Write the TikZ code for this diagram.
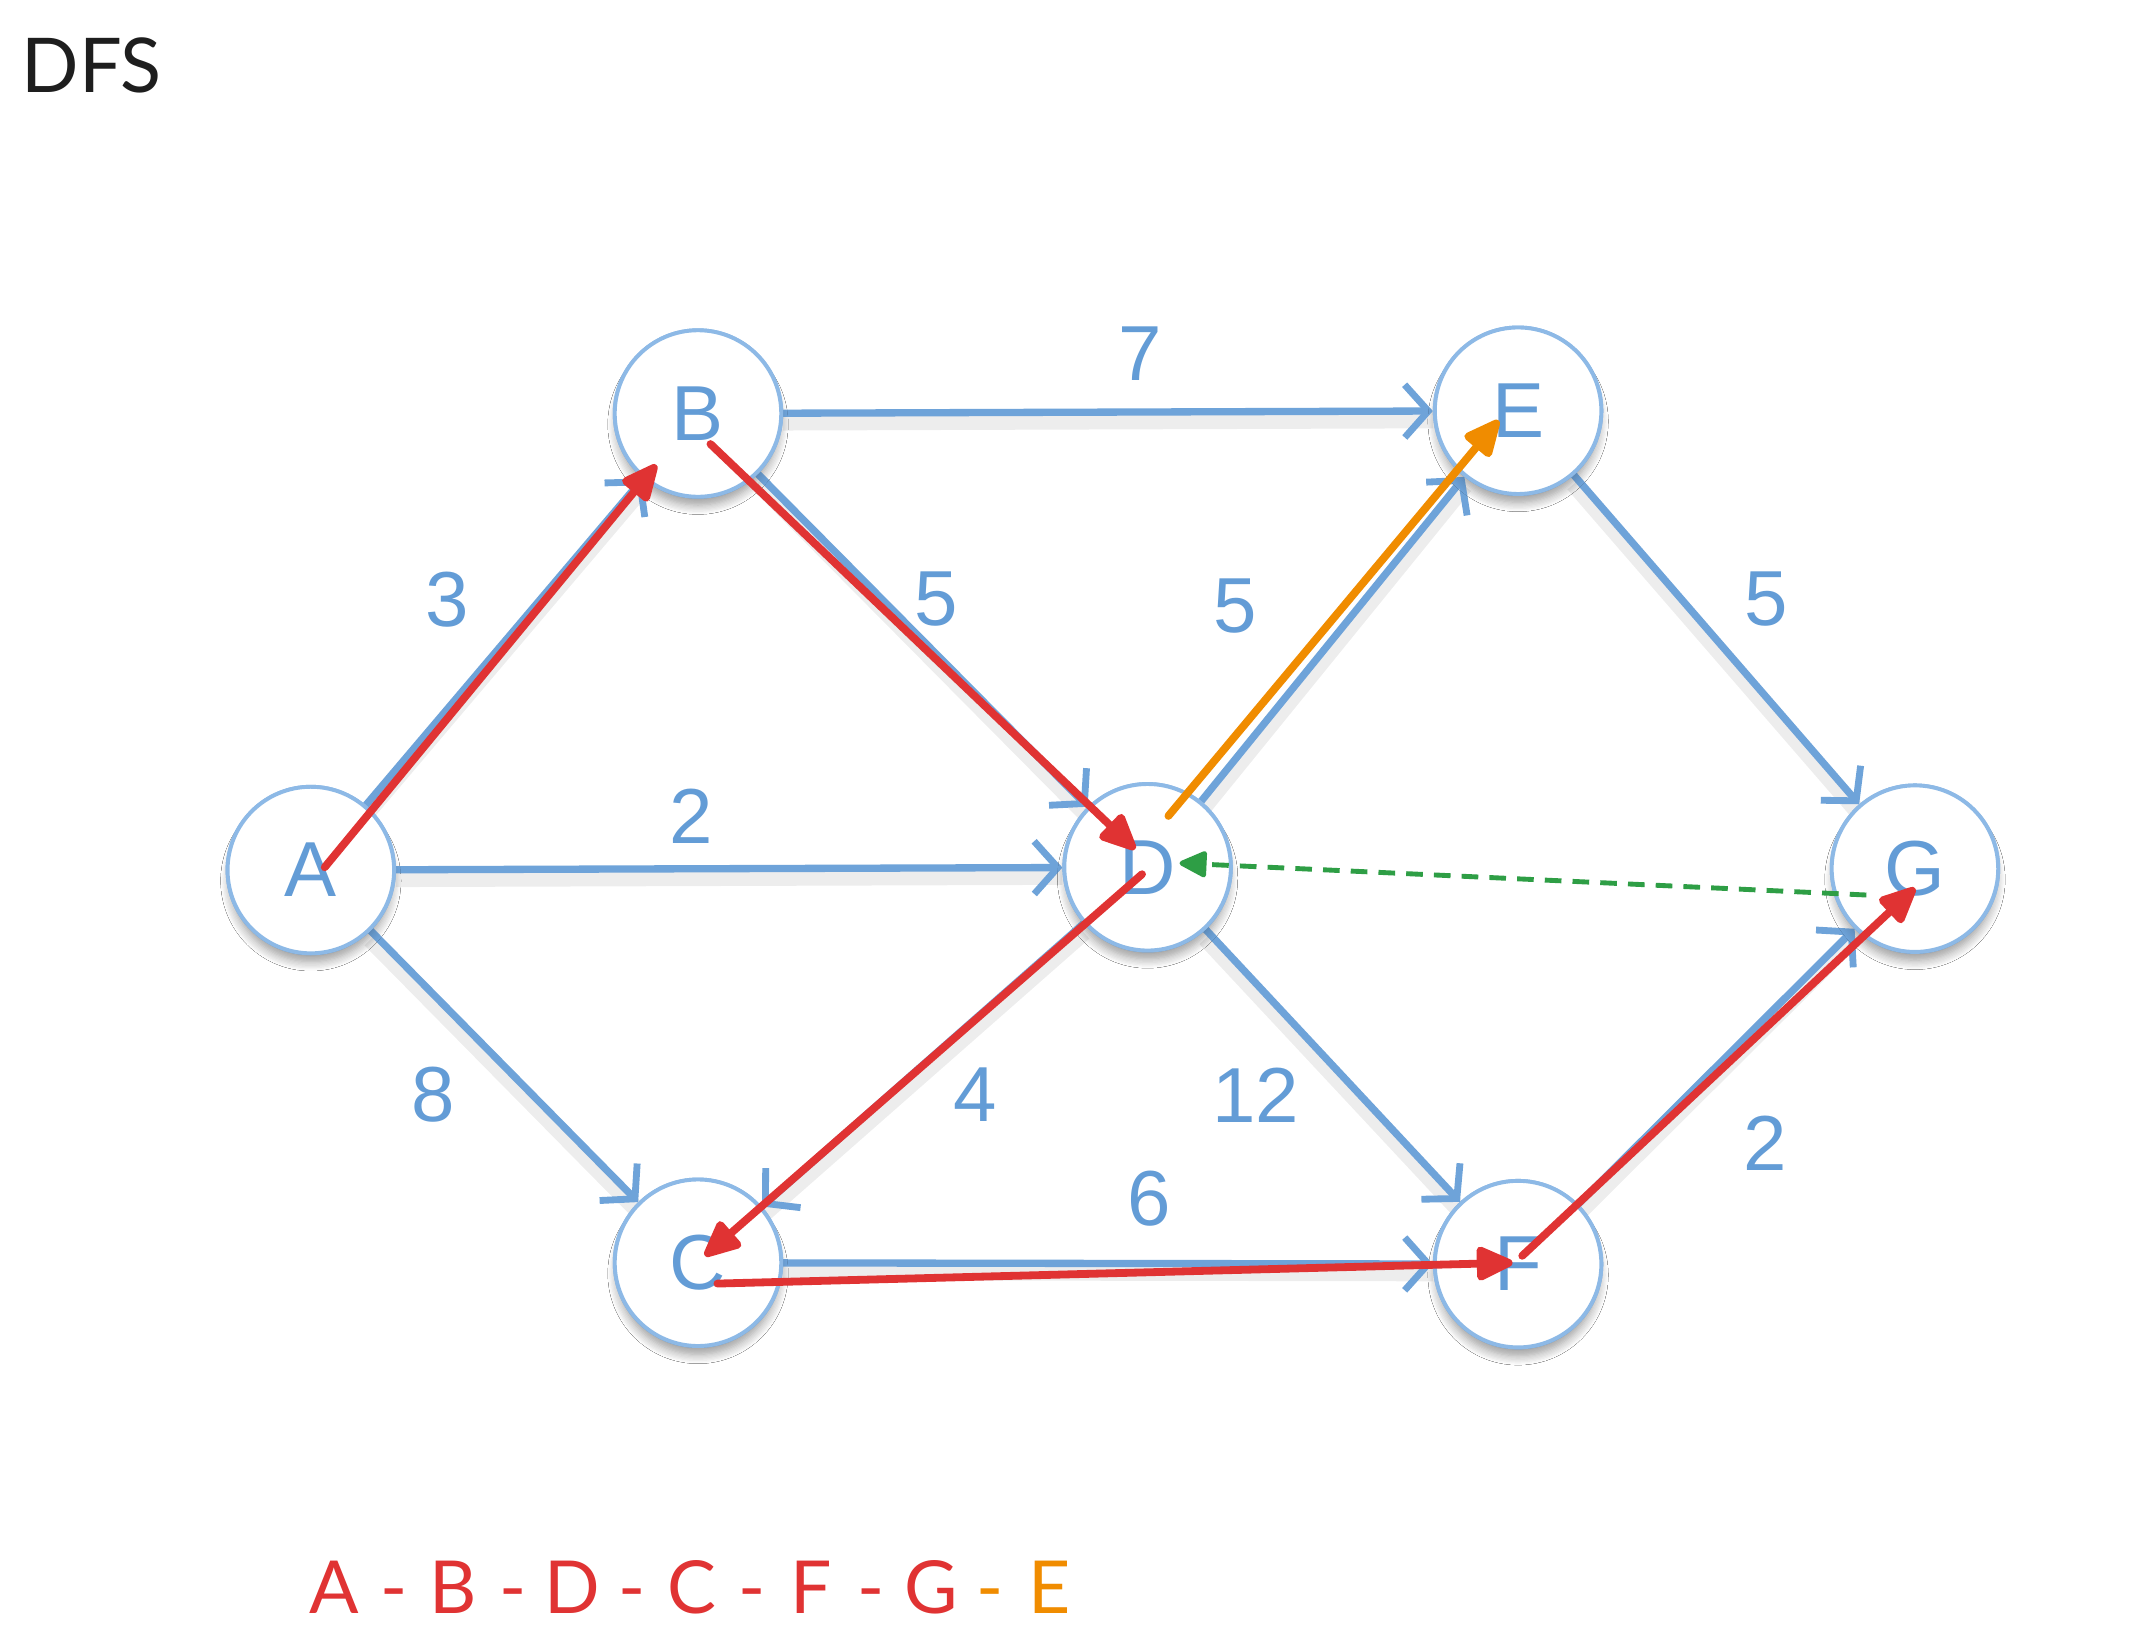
\documentclass[tikz,border=0pt]{standalone}
\usepackage{fontspec}
\setmainfont{Liberation Sans}
\newfontfamily\titlefont{Lato}
\usetikzlibrary{arrows.meta,shadows.blur,calc}
\definecolor{eblue}{HTML}{6EA3D9}
\definecolor{nblue}{HTML}{8DB9E6}
\definecolor{tblue}{HTML}{639CD6}
\definecolor{pathred}{HTML}{E03333}
\definecolor{pathorange}{HTML}{F08C00}
\definecolor{backgreen}{HTML}{2E9E45}
\definecolor{titlegray}{HTML}{1E1E1E}
\tikzset{
  vertex/.style={circle, draw=nblue, line width=0.8pt, fill=white, minimum size=1.2cm, inner sep=0pt,
    font=\fontsize{16}{16}\selectfont, text=tblue,
    blur shadow={shadow xshift=0pt, shadow yshift=-0.08cm, shadow blur radius=0.07cm, shadow blur steps=8, shadow opacity=22, shadow scale=0.97}},
  wedge/.style={draw=eblue, line width=1.5pt, -{Straight Barb[length=0.17cm, width=0.38cm, line width=1.4pt]},
    preaction={draw=black, draw opacity=0.07, line width=3.5pt, transform canvas={yshift=-1.8pt}, -}},
  wlabel/.style={text=tblue, font=\fontsize{16}{16}\selectfont, inner sep=0pt},
  trav/.style={line width=1.6pt, line cap=round, -{Triangle[length=0.3cm, width=0.26cm, round]}},
  backedge/.style={draw=backgreen, line width=1pt, dash pattern=on 0.12cm off 0.08cm,
    -{Triangle[length=0.22cm, width=0.2cm, round]}},
}
\begin{document}
\begin{tikzpicture}
\useasboundingbox (0,0) rectangle (15.53,11.80);
\fill[white] (0,0) rectangle (15.53,11.80);

\node[anchor=base west, inner sep=0pt, text=titlegray, font=\titlefont\fontsize{15.5}{15.5}\selectfont] (title) at (0.15,11.13) {DFS};

% vertices
\node[vertex] (A) at (2.24,5.53) {A};
\node[vertex] (B) at (5.03,8.82) {B};
\node[vertex] (E) at (10.94,8.84) {E};
\node[vertex] (D) at (8.27,5.55) {D};
\node[vertex] (G) at (13.80,5.54) {G};
\node[vertex] (C) at (5.03,2.70) {C};
\node[vertex] (F) at (10.94,2.69) {F};

% weighted edges
\draw[wedge] (A) -- (B);
\draw[wedge] (A) -- (D);
\draw[wedge] (A) -- (C);
\draw[wedge] (B) -- (E);
\draw[wedge] (B) -- (D);
\draw[wedge] (D) -- (E);
\draw[wedge] (D) -- (C);
\draw[wedge] (D) -- (F);
\draw[wedge] (C) -- (F);
\draw[wedge] (E) -- (G);
\draw[wedge] (F) -- (G);

% redraw vertices on top of edge shadows
\node[vertex] at (A) {A};
\node[vertex] at (B) {B};
\node[vertex] at (E) {E};
\node[vertex] at (D) {D};
\node[vertex] at (G) {G};
\node[vertex] at (C) {C};
\node[vertex] at (F) {F};

% weights
\node[wlabel] (wBE) at (8.22,9.25) {7};
\node[wlabel] (wAB) at (3.22,7.48) {3};
\node[wlabel] (wBD) at (6.75,7.48) {5};
\node[wlabel] (wDE) at (8.90,7.43) {5};
\node[wlabel] (wEG) at (12.73,7.48) {5};
\node[wlabel] (wAD) at (4.98,5.92) {2};
\node[wlabel] (wAC) at (3.12,3.91) {8};
\node[wlabel] (wDC) at (7.03,3.91) {4};
\node[wlabel] (wDF) at (9.05,3.91) {12};
\node[wlabel] (wCF) at (8.28,3.16) {6};
\node[wlabel] (wFG) at (12.72,3.56) {2};

% DFS traversal
\draw[trav, pathred] ([shift={(0.10,0.02)}]A.center) -- ([shift={(-0.30,-0.37)}]B.center);
\draw[trav, pathred] ([shift={(0.09,-0.22)}]B.center) -- ([shift={(-0.09,0.13)}]D.center);
\draw[trav, pathred] ([shift={(-0.04,-0.05)}]D.center) -- ([shift={(0.05,0.05)}]C.center);
\draw[trav, pathred] ([shift={(0.14,-0.15)}]C.center) -- ([shift={(-0.04,0.01)}]F.center);
\draw[trav, pathred] ([shift={(0.03,0.06)}]F.center) -- ([shift={(0.0,-0.14)}]G.center);
\draw[trav, pathorange] ([shift={(0.15,0.37)}]D.center) -- ([shift={(-0.14,-0.07)}]E.center);
\draw[backedge] ([shift={(-0.35,-0.19)}]G.center) -- ([shift={(0.23,0.03)}]D.center);

% order
\node[anchor=base west, inner sep=0pt, font=\titlefont\fontsize{15}{15}\selectfont] (order) at (2.185,0.17)
{\color{pathred}\makebox[0.43cm]{A}\makebox[0.43cm]{-}\makebox[0.43cm]{B}\makebox[0.43cm]{-}\makebox[0.43cm]{D}\makebox[0.43cm]{-}\makebox[0.43cm]{C}\makebox[0.43cm]{-}\makebox[0.43cm]{F}\makebox[0.43cm]{-}\makebox[0.43cm]{G}\color{pathorange}\makebox[0.43cm]{-}\makebox[0.43cm]{E}};
\end{tikzpicture}
\end{document}
